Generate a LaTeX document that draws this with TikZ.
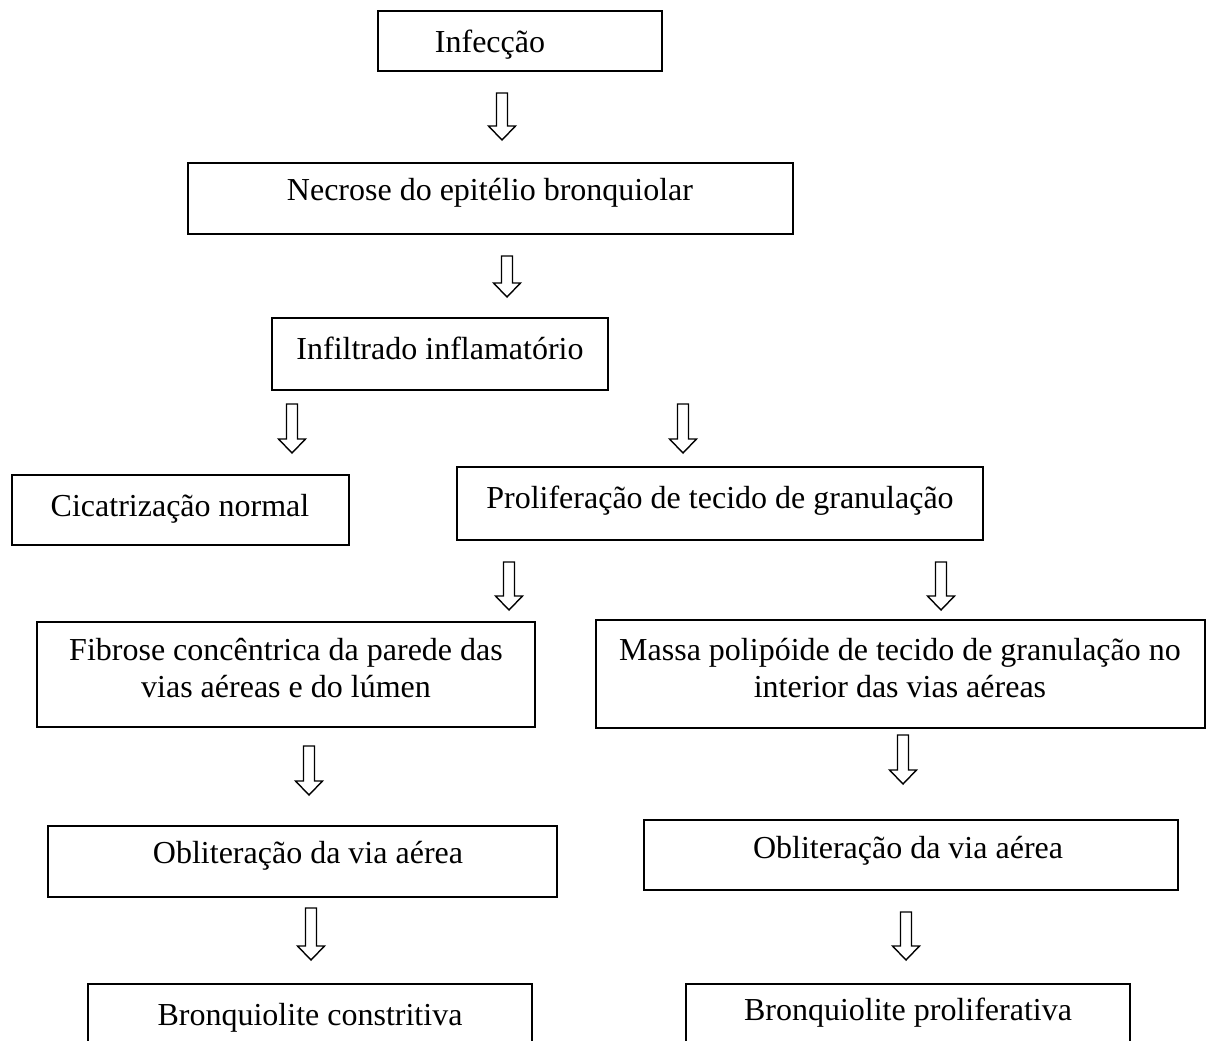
\documentclass[tikz,border=0pt]{standalone}
\usepackage{fontspec}
\setmainfont{Liberation Serif}
\usetikzlibrary{calc}
\tikzset{
  boxnode/.style={draw=black, line width=1.6pt, rectangle, inner sep=0pt},
  txt/.style={font=\fontsize{32}{37}\selectfont, align=center, inner sep=0pt},
  hollow/.style={draw=black, line width=1.4pt, fill=white, line join=miter},
}
% box: name, left, top, right, bottom
\newcommand\mybox[5]{\node[boxnode, minimum width={#4-#2}, minimum height={#5-#3}] (#1) at ({(#2+#4)/2},{(#3+#5)/2}) {};}
% hollow block arrow between two named coordinates (vertical)
\newcommand\blockarrow[2]{\draw[hollow] ($(#1)+(-5.5,0)$) -- ($(#2)+(-5.5,-14)$) -- ($(#2)+(-13.5,-14)$) -- (#2) -- ($(#2)+(13.5,-14)$) -- ($(#2)+(5.5,-14)$) -- ($(#1)+(5.5,0)$) -- cycle;}
\begin{document}
\begin{tikzpicture}[x=1pt, y=-1pt]
\useasboundingbox (0,0) rectangle (1207,1041);
\clip (0,0) rectangle (1207,1041);
\fill[white] (0,0) rectangle (1207,1041);
% boxes
\mybox{b1}{378}{11}{662}{71}
\mybox{b2}{188}{163}{793}{234}
\mybox{b3}{272}{318}{608}{390}
\mybox{b4}{12}{475}{349}{545}
\mybox{b5}{457}{467}{983}{540}
\mybox{b6}{37}{622}{535}{727}
\mybox{b7}{596}{620}{1205}{728}
\mybox{b8}{48}{826}{557}{897}
\mybox{b9}{644}{820}{1178}{890}
\mybox{b10}{88}{984}{532}{1080}
\mybox{b11}{686}{984}{1130}{1080}
% texts
\node[txt] (t1) at (490,45) {Infecção};
\node[txt] (t2) at (490,193) {Necrose do epitélio bronquiolar};
\node[txt] (t3) at (440,348) {Infiltrado inflamatório};
\node[txt] (t4) at (180,509) {Cicatrização normal};
\node[txt] (t5) at (720,501) {Proliferação de tecido de granulação};
\node[txt] (t6) at (286,668) {Fibrose concêntrica da parede das\\vias aéreas e do lúmen};
\node[txt] (t7) at (900,668) {Massa polipóide de tecido de granulação no\\interior das vias aéreas};
\node[txt] (t8) at (308,856) {Obliteração da via aérea};
\node[txt] (t9) at (908,851) {Obliteração da via aérea};
\node[txt] (t10) at (310,1018) {Bronquiolite constritiva};
\node[txt] (t11) at (908,1013) {Bronquiolite proliferativa};
% arrow end points
\coordinate (a1s) at (502,93);  \coordinate (a1e) at (502,140);
\coordinate (a2s) at (507,256); \coordinate (a2e) at (507,297);
\coordinate (a3s) at (292,404); \coordinate (a3e) at (292,453);
\coordinate (a4s) at (683,404); \coordinate (a4e) at (683,453);
\coordinate (a5s) at (509,562); \coordinate (a5e) at (509,610);
\coordinate (a6s) at (941,562); \coordinate (a6e) at (941,610);
\coordinate (a7s) at (309,746); \coordinate (a7e) at (309,795);
\coordinate (a8s) at (903,735); \coordinate (a8e) at (903,784);
\coordinate (a9s) at (311,908); \coordinate (a9e) at (311,960);
\coordinate (a10s) at (906,912); \coordinate (a10e) at (906,960);
\blockarrow{a1s}{a1e}
\blockarrow{a2s}{a2e}
\blockarrow{a3s}{a3e}
\blockarrow{a4s}{a4e}
\blockarrow{a5s}{a5e}
\blockarrow{a6s}{a6e}
\blockarrow{a7s}{a7e}
\blockarrow{a8s}{a8e}
\blockarrow{a9s}{a9e}
\blockarrow{a10s}{a10e}
\end{tikzpicture}
\end{document}
